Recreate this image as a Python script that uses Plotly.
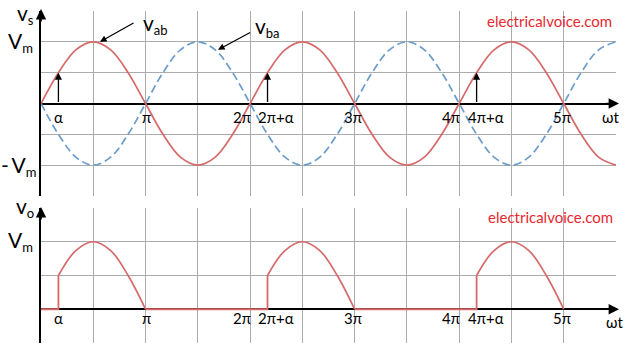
import plotly.graph_objects as go

# ---------------- data (x in units of pi) ----------------
ALPHA = 1 / 6  # firing angle alpha = pi/6

vs_x = [k / 6 for k in range(34)]
v_ab = [0, 0.5, 0.87, 1, 0.87, 0.5, 0, -0.5, -0.87, -1, -0.87, -0.5,
        0, 0.5, 0.87, 1, 0.87, 0.5, 0, -0.5, -0.87, -1, -0.87, -0.5,
        0, 0.5, 0.87, 1, 0.87, 0.5, 0, -0.5, -0.87, -1]
v_ba = [0, -0.5, -0.87, -1, -0.87, -0.5, 0, 0.5, 0.87, 1, 0.87, 0.5,
        0, -0.5, -0.87, -1, -0.87, -0.5, 0, 0.5, 0.87, 1, 0.87, 0.5,
        0, -0.5, -0.87, -1, -0.87, -0.5, 0, 0.5, 0.87, 1]

# output voltage: off-state parts and firing jumps
vo_flat_x = [0, 1 / 6, 1 / 6, None, 1, 13 / 6, 13 / 6, None, 3, 25 / 6, 25 / 6]
vo_flat_y = [0, 0, 0.5, None, 0, 0, 0.5, None, 0, 0, 0.5]
# output voltage: conducting arcs
vo_arc_x = [1 / 6, 2 / 6, 3 / 6, 4 / 6, 5 / 6, 1, None,
            13 / 6, 14 / 6, 15 / 6, 16 / 6, 17 / 6, 3, None,
            25 / 6, 26 / 6, 27 / 6, 28 / 6, 29 / 6, 5]
vo_arc_y = [0.5, 0.87, 1, 0.87, 0.5, 0, None,
            0.5, 0.87, 1, 0.87, 0.5, 0, None,
            0.5, 0.87, 1, 0.87, 0.5, 0]

tick_text = ["α", "π", "2π", "2π+α", "3π", "4π", "4π+α", "5π"]
tick_pos = [ALPHA, 1, 2, 2 + ALPHA, 3, 4, 4 + ALPHA, 5]
tick_shift = [0, 1, -8, 8, -2, -8, 9, -2]

grid_x = [0.5 * k for k in range(1, 11)]

# ---------------- styling ----------------
W, H = 627, 349
FONT = "Lato"
RED = "#d66a6a"
BLUE = "#6a9ccc"
GRID = "#ababab"
MARK = "#e8272f"


def px(x):
    return x / W


def py(y):
    return 1 - y / H


def sub(main, s, size=13):
    return f"{main}<sub><span style='font-size:{size}px'>{s}</span></sub>"


fig = go.Figure()

fig.add_trace(go.Scatter(x=vs_x, y=v_ba, mode="lines", line=dict(color=BLUE, width=1.7, dash="8px,4px", shape="spline"),
                         xaxis="x", yaxis="y", hoverinfo="skip"))
fig.add_trace(go.Scatter(x=vs_x, y=v_ab, mode="lines", line=dict(color=RED, width=1.7, shape="spline"),
                         xaxis="x", yaxis="y", hoverinfo="skip"))
fig.add_trace(go.Scatter(x=vo_flat_x, y=vo_flat_y, mode="lines", line=dict(color=RED, width=1.8),
                         xaxis="x2", yaxis="y2", hoverinfo="skip"))
fig.add_trace(go.Scatter(x=vo_arc_x, y=vo_arc_y, mode="lines", line=dict(color=RED, width=1.7, shape="spline"),
                         xaxis="x2", yaxis="y2", hoverinfo="skip"))

xdom = [px(41), px(616)]
common_x = dict(range=[0, 5.5], domain=xdom, showgrid=True, gridcolor=GRID, gridwidth=1,
                tickmode="array", tickvals=grid_x, showticklabels=False, ticks="",
                zeroline=False, showline=False, fixedrange=True)
fig.update_layout(
    width=W, height=H, margin=dict(l=0, r=0, t=0, b=0),
    paper_bgcolor="white", plot_bgcolor="white", showlegend=False,
    font=dict(family=FONT, color="black"),
    xaxis=dict(**common_x, anchor="y"),
    xaxis2=dict(**common_x, anchor="y2"),
    yaxis=dict(range=[-1.5, 1.5], domain=[py(196), py(11)], anchor="x",
               tickmode="array", tickvals=[-1, -0.5, 0.5, 1, 1.5], showticklabels=False, ticks="",
               showgrid=True, gridcolor=GRID, gridwidth=1,
               zeroline=True, zerolinecolor="black", zerolinewidth=1.6,
               showline=True, linecolor="black", linewidth=1.6, fixedrange=True),
    yaxis2=dict(range=[-0.5, 1.5], domain=[py(343), py(208)], anchor="x2",
                tickmode="array", tickvals=[-0.5, 0.5, 1, 1.5], showticklabels=False, ticks="",
                showgrid=True, gridcolor=GRID, gridwidth=1,
                zeroline=True, zerolinecolor="black", zerolinewidth=1.6,
                showline=True, linecolor="black", linewidth=1.6, fixedrange=True),
)

ann = []
TICKF = dict(family=FONT, size=15, color="black")
# tick labels
for xr, ypix in (("x", 117), ("x2", 318)):
    for t, p, s in zip(tick_text, tick_pos, tick_shift):
        ann.append(dict(x=p, y=py(ypix), xref=xr, yref="paper", text=t, showarrow=False,
                        xanchor="center", yanchor="middle", xshift=s, font=TICKF))
ann.append(dict(x=px(610), y=py(117), xref="paper", yref="paper", text="ωt", showarrow=False,
                xanchor="center", yanchor="middle", font=TICKF))
ann.append(dict(x=px(614), y=py(322), xref="paper", yref="paper", text="ωt", showarrow=False,
                xanchor="center", yanchor="middle", font=TICKF))

BIG = dict(family=FONT, size=21, color="black")
ann += [
    dict(x=px(36), y=py(14), xref="paper", yref="paper", text=sub("v", "s"), showarrow=False,
         xanchor="right", yanchor="middle", font=BIG),
    dict(x=px(35), y=py(42), xref="paper", yref="paper", text=sub("V", "m"), showarrow=False,
         xanchor="right", yanchor="middle", font=BIG),
    dict(x=px(-1), y=py(166), xref="paper", yref="paper", text=sub("-\u2009V", "m"), showarrow=False,
         xanchor="left", yanchor="middle", font=BIG),
    dict(x=px(36), y=py(207), xref="paper", yref="paper", text=sub("v", "o"), showarrow=False,
         xanchor="right", yanchor="middle", font=BIG),
    dict(x=px(35), y=py(241), xref="paper", yref="paper", text=sub("V", "m"), showarrow=False,
         xanchor="right", yanchor="middle", font=BIG),
    dict(x=px(141), y=py(24), xref="paper", yref="paper", text=sub("v", "ab"), showarrow=False,
         xanchor="left", yanchor="middle", font=BIG),
    dict(x=px(253), y=py(27), xref="paper", yref="paper", text=sub("v", "ba"), showarrow=False,
         xanchor="left", yanchor="middle", font=BIG),
    dict(x=px(549), y=py(21), xref="paper", yref="paper", text="electricalvoice.com", showarrow=False,
         xanchor="center", yanchor="middle", font=dict(family=FONT, size=15, color=MARK)),
    dict(x=px(550), y=py(217), xref="paper", yref="paper", text="electricalvoice.com", showarrow=False,
         xanchor="center", yanchor="middle", font=dict(family=FONT, size=15, color=MARK)),
]

# pointer arrows to v_ab and v_ba
ann.append(dict(x=0.564, y=1.0, xref="x", yref="y", ax=0.899, ay=1.32, axref="x", ayref="y",
                text="", showarrow=True, arrowhead=2, arrowsize=1.1, arrowwidth=1.2, arrowcolor="black"))
ann.append(dict(x=1.693, y=0.87, xref="x", yref="y", ax=2.015, ay=1.165, axref="x", ayref="y",
                text="", showarrow=True, arrowhead=2, arrowsize=1.1, arrowwidth=1.2, arrowcolor="black"))

# firing arrows at alpha, 2pi+alpha, 4pi+alpha
for p in (ALPHA, 2 + ALPHA, 4 + ALPHA):
    ann.append(dict(x=p, y=0.5, xref="x", yref="y", ax=p, ay=0, axref="x", ayref="y",
                    text="", showarrow=True, arrowhead=2, arrowsize=1.1, arrowwidth=1.3, arrowcolor="black"))

# axis arrowheads
for yr in ("y", "y2"):
    ann.append(dict(x=px(619), y=0, xref="paper", yref=yr, ax=-14, ay=0,
                    text="", showarrow=True, arrowhead=2, arrowsize=1.3, arrowwidth=1.6, arrowcolor="black"))
for xr, ytip in (("x", 9), ("x2", 207)):
    ann.append(dict(x=0, y=py(ytip), xref=xr, yref="paper", ax=0, ay=14,
                    text="", showarrow=True, arrowhead=2, arrowsize=1.3, arrowwidth=1.6, arrowcolor="black"))

fig.update_layout(annotations=ann)
fig.write_html("out.html")
